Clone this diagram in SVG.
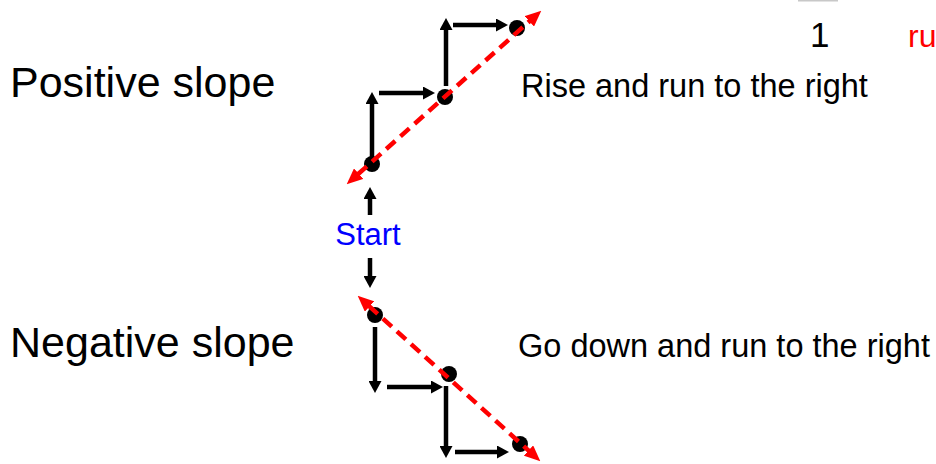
<svg xmlns="http://www.w3.org/2000/svg" width="936" height="464" viewBox="0 0 936 464">
  <style>
    .lbl { font-family: "Liberation Sans", Arial, sans-serif; fill: #000; }
    .big { font-size: 43px; }
    .mid { font-size: 32.5px; }
    .step { stroke: #000; stroke-width: 4.5; fill: none; marker-end: url(#ah); }
    .trend { stroke: #ff0000; stroke-width: 4.5; stroke-dasharray: 12 7; fill: none; marker-start: url(#rh); marker-end: url(#rh); }
    .dot { fill: #000; }
  </style>
  <defs>
    <marker id="ah" viewBox="0 0 12 13" markerWidth="12" markerHeight="13" markerUnits="userSpaceOnUse" refX="1" refY="6.5" orient="auto">
      <path d="M0,0 L12,6.5 L0,13 z" fill="#000"/>
    </marker>
    <marker id="rh" viewBox="0 0 16 14" markerWidth="16" markerHeight="14" markerUnits="userSpaceOnUse" refX="1" refY="7" orient="auto-start-reverse">
      <path d="M0,0 L16,7 L0,14 z" fill="#ff0000"/>
    </marker>
  </defs>

  <rect width="936" height="464" fill="#fff"/>

  <!-- fraction bar and labels at top right -->
  <rect x="798" y="0" width="40" height="1.5" fill="#c8c8c8"/>
  <text class="lbl" x="810" y="47" font-size="35">1</text>
  <text class="lbl" x="908" y="47" font-size="32" style="fill:#ff0000">ru</text>

  <g id="positive-label">
    <text class="lbl big" x="10" y="97">Positive slope</text>
  </g>
  <g id="negative-label">
    <text class="lbl big" x="10" y="357">Negative slope</text>
  </g>
  <g id="rise-label">
    <text class="lbl mid" x="521" y="97">Rise and run to the right</text>
  </g>
  <g id="down-label">
    <text class="lbl mid" x="518" y="357">Go down and run to the right</text>
  </g>
  <g id="start">
    <text x="368" y="245" font-family="Liberation Sans, Arial, sans-serif" font-size="31" fill="#0000ff" text-anchor="middle">Start</text>
  </g>

  <g id="positive-points">
    <circle class="dot" cx="372" cy="164" r="8"/>
    <circle class="dot" cx="445" cy="97" r="8"/>
    <circle class="dot" cx="517" cy="28" r="8"/>
  </g>
  <g id="negative-points">
    <circle class="dot" cx="375" cy="315" r="8"/>
    <circle class="dot" cx="449" cy="374" r="8"/>
    <circle class="dot" cx="520" cy="444" r="8"/>
  </g>

  <g id="connectors">
    <!-- start arrows -->
    <line class="step" x1="370" y1="215" x2="370" y2="198"/>
    <line class="step" x1="370" y1="258" x2="370" y2="277"/>

    <!-- positive slope steps -->
    <line class="step" x1="372" y1="157" x2="372" y2="103"/>
    <line class="step" x1="379" y1="93" x2="424" y2="93"/>
    <line class="step" x1="446" y1="86" x2="446" y2="29"/>
    <line class="step" x1="453" y1="25" x2="497" y2="25"/>

    <!-- negative slope steps -->
    <line class="step" x1="375" y1="327" x2="375" y2="382"/>
    <line class="step" x1="387" y1="387" x2="432" y2="387"/>
    <line class="step" x1="446" y1="386" x2="446" y2="447"/>
    <line class="step" x1="455" y1="452" x2="498" y2="452"/>

    <!-- dashed trend lines, drawn over the points -->
    <line class="trend" x1="357.9" y1="174.3" x2="530.1" y2="20.7"/>
    <line class="trend" x1="368.8" y1="305.8" x2="529.2" y2="451.2"/>
  </g>
</svg>
